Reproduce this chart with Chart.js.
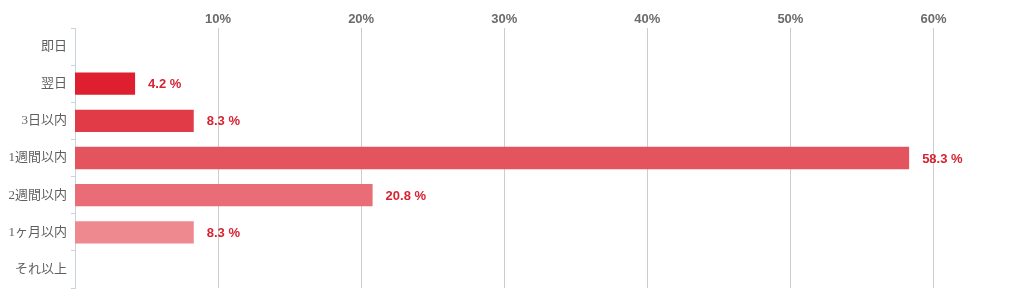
<!DOCTYPE html>
<html>
<head>
<meta charset="utf-8">
<script src="https://cdn.jsdelivr.net/npm/chart.js@4"></script>
<style>
  html, body { margin: 0; padding: 0; background: #fff; }
  .wrap { width: 1024px; height: 302px; position: relative; }
</style>
</head>
<body>
<div class="wrap"><canvas id="periodChart"></canvas></div>
<script>
const categories = ["即日", "翌日", "3日以内", "1週間以内", "2週間以内", "1ヶ月以内", "それ以上"];
const shares = [0, 4.2, 8.3, 58.3, 20.8, 8.3, 0];
const barColors = ["#de1f30", "#de1f30", "#e23b48", "#e4545f", "#e96d77", "#ee8990", "#ee8990"];
const tickValues = [10, 20, 30, 40, 50, 60];

// value labels at the end of each bar
const barValueLabels = {
  id: 'barValueLabels',
  afterDatasetsDraw(chart) {
    const ctx = chart.ctx;
    const meta = chart.getDatasetMeta(0);
    ctx.save();
    ctx.font = "bold 13px 'Liberation Sans', Arial, sans-serif";
    ctx.fillStyle = "#d62232";
    ctx.textBaseline = "middle";
    ctx.textAlign = "left";
    meta.data.forEach((bar, i) => {
      if (!shares[i]) return;
      ctx.fillText(shares[i].toFixed(1) + " %", bar.x + 13, bar.y + 1);
    });
    ctx.restore();
  }
};

const periodChart = new Chart(document.getElementById('periodChart'), {
  type: 'bar',
  data: {
    labels: categories,
    datasets: [{
      data: shares,
      backgroundColor: barColors,
      borderWidth: 0,
      barPercentage: 0.6,
      categoryPercentage: 1.0
    }]
  },
  options: {
    indexAxis: 'y',
    responsive: true,
    maintainAspectRatio: false,
    animation: false,
    layout: { padding: { top: 0, right: 19, bottom: 14, left: 0 } },
    plugins: {
      legend: { display: false },
      tooltip: { enabled: false }
    },
    scales: {
      x: {
        position: 'top',
        min: 0,
        max: 65,
        afterBuildTicks: (scale) => {
          scale.ticks = tickValues.map(v => ({ value: v }));
        },
        afterFit: (scale) => { scale.height = 28; },
        border: { display: false },
        grid: { color: "#cccccc", drawTicks: false },
        ticks: {
          padding: 1,
          color: "#6b6b6b",
          font: { family: "'Liberation Sans', Arial, sans-serif", size: 13, weight: 'bold' },
          callback: (v) => v + "%"
        }
      },
      y: {
        afterFit: (scale) => { scale.width = 75; },
        border: { display: true, color: "#c9d3df" },
        grid: { drawOnChartArea: false, tickLength: 4, color: "#c9d3df", offset: true },
        ticks: {
          padding: 4,
          color: "#5f5f5f",
          font: { family: "'Liberation Serif', 'Noto Sans CJK JP', serif", size: 13 }
        }
      }
    }
  },
  plugins: [barValueLabels]
});
</script>
</body>
</html>
